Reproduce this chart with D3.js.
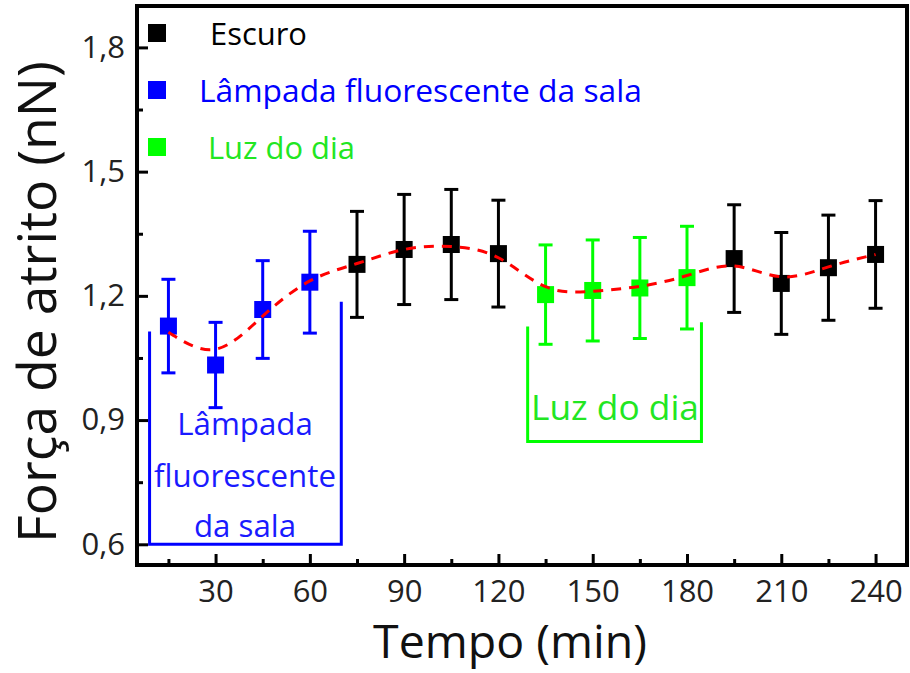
<!DOCTYPE html>
<html>
<head>
<meta charset="utf-8">
<script src="https://cdn.jsdelivr.net/npm/d3@7"></script>
<style>
  body { margin: 0; background: #fff; }
  text { font-family: "Open Sans", "Noto Sans", sans-serif; }
</style>
</head>
<body>
<script>
// Datos
const tempo  = [15, 30, 45, 60, 75, 90, 105, 120, 135, 150, 165, 180, 195, 210, 225, 240];
const forca  = [1.127, 1.033, 1.167, 1.233, 1.276, 1.312, 1.324, 1.302, 1.203, 1.213, 1.219, 1.244, 1.290, 1.230, 1.268, 1.300];
const erro   = [0.113, 0.103, 0.118, 0.123, 0.128, 0.133, 0.133, 0.129, 0.120, 0.122, 0.122, 0.124, 0.130, 0.123, 0.127, 0.130];
const cond   = ['lamp', 'lamp', 'lamp', 'lamp', 'dark', 'dark', 'dark', 'dark', 'day', 'day', 'day', 'day', 'dark', 'dark', 'dark', 'dark'];
// curva suavizada (linea roja)
const ajuste = [1.112, 1.071, 1.151, 1.236, 1.278, 1.312, 1.319, 1.292, 1.222, 1.211, 1.223, 1.249, 1.272, 1.246, 1.270, 1.300];

const xTicks = [30, 60, 90, 120, 150, 180, 210, 240];
const yTicks = [0.6, 0.9, 1.2, 1.5, 1.8];

const legendKeys   = ['dark', 'lamp', 'day'];
const legendLabels = ['Escuro', 'Lâmpada fluorescente da sala', 'Luz do dia'];

const WIDTH  = 910;
const HEIGHT = 673;

const color = { dark: '#000000', lamp: '#0000ff', day: '#00ff00' };

let svg = d3.select('body').append('svg')
              .attr('width', WIDTH)
              .attr('height', HEIGHT);

let x = d3.scaleLinear().domain([5, 250]).range([137, 907]);
let y = d3.scaleLinear().domain([0.55, 1.9]).range([565, 6]);

// ajusta el tamaño de letra para que el texto ocupe un ancho dado
function fitWidth(t, w) {
  let fs = parseFloat(t.attr('font-size'));
  let len = t.node().getComputedTextLength();
  t.attr('font-size', fs * w / len);
}

// ticks menores
svg.append('g')
   .attr('transform', 'translate(0,565)')
   .call(d3.axisBottom(x).tickValues(d3.range(15, 250, 30)).tickSize(-6).tickFormat(''))
   .call(g => g.select('.domain').remove());
svg.append('g')
   .attr('transform', 'translate(137,0)')
   .call(d3.axisLeft(y).tickValues([0.75, 1.05, 1.35, 1.65]).tickSize(-6).tickFormat(''))
   .call(g => g.select('.domain').remove());

// ticks mayores
let gx = svg.append('g')
   .attr('transform', 'translate(0,565)')
   .call(d3.axisBottom(x).tickValues(xTicks).tickSize(-11).tickPadding(15));
let gy = svg.append('g')
   .attr('transform', 'translate(137,0)')
   .call(d3.axisLeft(y).tickValues(yTicks).tickSize(-11).tickPadding(12)
          .tickFormat(d => d3.format('.1f')(d).replace('.', ',')));

[gx, gy].forEach(g => {
  g.select('.domain').remove();
  g.selectAll('text').attr('font-size', 31).attr('fill', '#222').style('font-family', '"Open Sans", sans-serif');
});
svg.selectAll('g line').attr('stroke', '#000').attr('stroke-width', 3);

// marco
svg.append('rect')
   .attr('x', 137).attr('y', 6)
   .attr('width', 907 - 137).attr('height', 565 - 6)
   .attr('fill', 'none')
   .attr('stroke', '#000')
   .attr('stroke-width', 4);

// titulos de ejes
let xl = svg.append('text')
   .attr('x', 510).attr('y', 658)
   .attr('text-anchor', 'middle')
   .attr('font-size', 46)
   .attr('fill', '#111')
   .text('Tempo (min)');
fitWidth(xl, 274);

let yl = svg.append('text')
   .attr('transform', 'translate(56,302) rotate(-90)')
   .attr('text-anchor', 'middle')
   .attr('font-size', 46)
   .attr('fill', '#111')
   .text('Força de atrito (nN)');
fitWidth(yl, 482);

// corchetes de anotacion
const brackets = [
  { x0: 9,     x1: 70,    yb: 0.6,   yl: 1.114, yr: 1.186, c: '#0000ff' },
  { x0: 129.3, x1: 184.6, yb: 0.848, yl: 1.126, yr: 1.136, c: '#00ff00' }
];
brackets.forEach(b => {
  svg.append('path')
     .attr('d', d3.line()([[x(b.x0), y(b.yl)], [x(b.x0), y(b.yb)], [x(b.x1), y(b.yb)], [x(b.x1), y(b.yr)]]))
     .attr('fill', 'none')
     .attr('stroke', b.c)
     .attr('stroke-width', 3);
});

// texto de la anotacion azul, tres lineas
const lampLines = ['Lâmpada', 'fluorescente', 'da sala'];
const lampBase  = [435, 487, 537];
let probe = svg.append('text').attr('font-size', 30).text(lampLines[1]);
fitWidth(probe, 182);
let lampFs = probe.attr('font-size');
probe.remove();
lampLines.forEach((s, i) => {
  svg.append('text')
     .attr('x', 245).attr('y', lampBase[i])
     .attr('text-anchor', 'middle')
     .attr('font-size', lampFs)
     .attr('fill', '#1a1aff')
     .text(s);
});

let ld = svg.append('text')
   .attr('x', 615).attr('y', 420)
   .attr('text-anchor', 'middle')
   .attr('font-size', 30)
   .attr('fill', '#22e622')
   .text('Luz do dia');
fitWidth(ld, 168);

// barras de error
let pts = tempo.map((t, i) => ({ t: t, f: forca[i], e: erro[i], c: cond[i] }));

let eb = svg.append('g').selectAll('g').data(pts).join('g')
            .attr('stroke', d => color[d.c])
            .attr('stroke-width', 3);
eb.append('line')
  .attr('x1', d => x(d.t)).attr('x2', d => x(d.t))
  .attr('y1', d => y(d.f - d.e)).attr('y2', d => y(d.f + d.e));
eb.append('line')
  .attr('x1', d => x(d.t) - 7).attr('x2', d => x(d.t) + 7)
  .attr('y1', d => y(d.f + d.e)).attr('y2', d => y(d.f + d.e));
eb.append('line')
  .attr('x1', d => x(d.t) - 7).attr('x2', d => x(d.t) + 7)
  .attr('y1', d => y(d.f - d.e)).attr('y2', d => y(d.f - d.e));

// puntos cuadrados
svg.append('g').selectAll('rect').data(pts).join('rect')
   .attr('x', d => x(d.t) - 8.5)
   .attr('y', d => y(d.f) - 8.5)
   .attr('width', 17).attr('height', 17)
   .attr('fill', d => color[d.c]);

// linea roja punteada
svg.append('path')
   .datum(tempo.map((t, i) => [t, ajuste[i]]))
   .attr('d', d3.line().x(d => x(d[0])).y(d => y(d[1])).curve(d3.curveNatural))
   .attr('fill', 'none')
   .attr('stroke', '#ff0000')
   .attr('stroke-width', 3)
   .attr('stroke-dasharray', '10,8');

// leyenda
const legY  = [33, 90, 147];
const legTx = [210, 199, 208];
const legW  = [97, 443, 147];
legendKeys.forEach((k, i) => {
  svg.append('rect')
     .attr('x', 148).attr('y', legY[i] - 9)
     .attr('width', 18).attr('height', 18)
     .attr('fill', color[k]);
  let t = svg.append('text')
     .attr('x', legTx[i]).attr('y', legY[i] + 12)
     .attr('font-size', 32)
     .attr('fill', k == 'day' ? '#22e622' : color[k])
     .text(legendLabels[i]);
  fitWidth(t, legW[i]);
});
</script>
</body>
</html>
